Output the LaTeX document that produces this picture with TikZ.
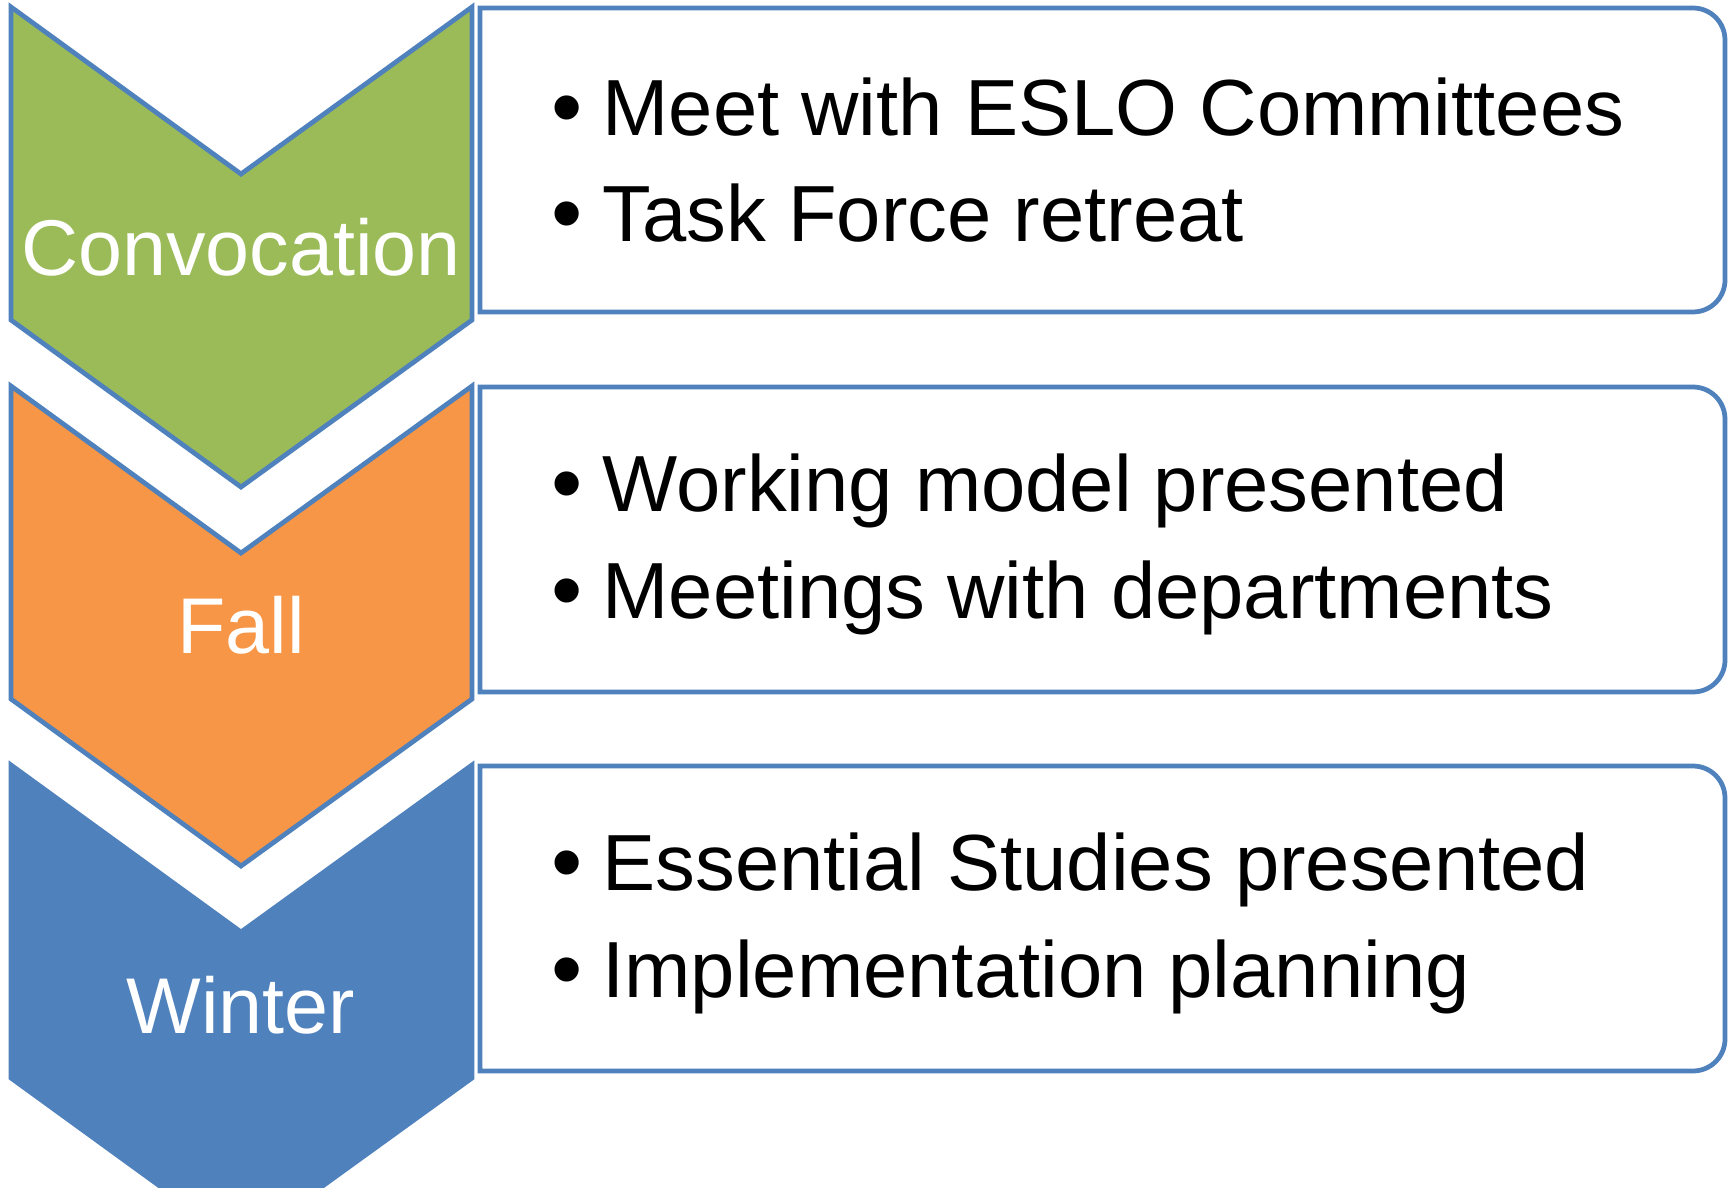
\documentclass[tikz,border=0pt]{standalone}
\usepackage{fontspec}
\setmainfont{Liberation Sans}
\definecolor{officeblue}{HTML}{4F81BD}
\definecolor{officegreen}{HTML}{9BBB59}
\definecolor{officeorange}{HTML}{F79646}
\newcommand{\itembullet}{\makebox[28pt][l]{\hspace{-1pt}\raisebox{-0.03em}{\scalebox{1.12}{\textbullet}}}}
\begin{document}
\begin{tikzpicture}[x=0.02cm,y=-0.02cm,
    chevron/.style={draw=officeblue,line width=2.7pt},
    stagebox/.style={draw=officeblue,line width=2.7pt,fill=white},
    stage/.style={text=white,font=\fontsize{45}{54}\selectfont,anchor=base,inner sep=0pt},
    item/.style={font=\fontsize{45.3}{54}\selectfont,anchor=base west,inner sep=0pt}]
    \clip (0,0) rectangle (1731,1187);
    \fill[white] (0,0) rectangle (1731,1187);
    % chevrons
    \filldraw[chevron,fill=officegreen] (11,7) -- (241,174) -- (472,7) -- (472,320) -- (241,487) -- (11,320) -- cycle;
    \filldraw[chevron,fill=officeorange] (11,386) -- (241,553) -- (472,386) -- (472,699) -- (241,866) -- (11,699) -- cycle;
    \filldraw[chevron,fill=officeblue] (11,765) -- (241,932) -- (472,765) -- (472,1078) -- (241,1245) -- (11,1078) -- cycle;
    \node[stage] (conv) at (241,275) {Convocation};
    \node[stage] (fall) at (241,653) {Fall};
    \node[stage] (wint) at (241,1033) {Winter};
    % boxes, rounded on the right only
    \draw[stagebox] (480,8) -- (1693,8) arc[start angle=90,end angle=0,radius=18.2pt] -- (1725,280) arc[start angle=0,end angle=-90,radius=18.2pt] -- (480,312) -- cycle;
    \draw[stagebox] (480,387) -- (1693,387) arc[start angle=90,end angle=0,radius=18.2pt] -- (1725,660) arc[start angle=0,end angle=-90,radius=18.2pt] -- (480,692) -- cycle;
    \draw[stagebox] (480,766) -- (1693,766) arc[start angle=90,end angle=0,radius=18.2pt] -- (1725,1039) arc[start angle=0,end angle=-90,radius=18.2pt] -- (480,1071) -- cycle;
    \node[item] (conva) at (553,135) {\itembullet Meet with ESLO Committees};
    \node[item] (convb) at (553,241) {\itembullet Task Force retreat};
    \node[item] (falla) at (553,511) {\itembullet Working model presented};
    \node[item] (fallb) at (553,618) {\itembullet Meetings with departments};
    \node[item] (winta) at (553,890) {\itembullet Essential Studies presented};
    \node[item] (wintb) at (553,997) {\itembullet Implementation planning};
\end{tikzpicture}
\end{document}
